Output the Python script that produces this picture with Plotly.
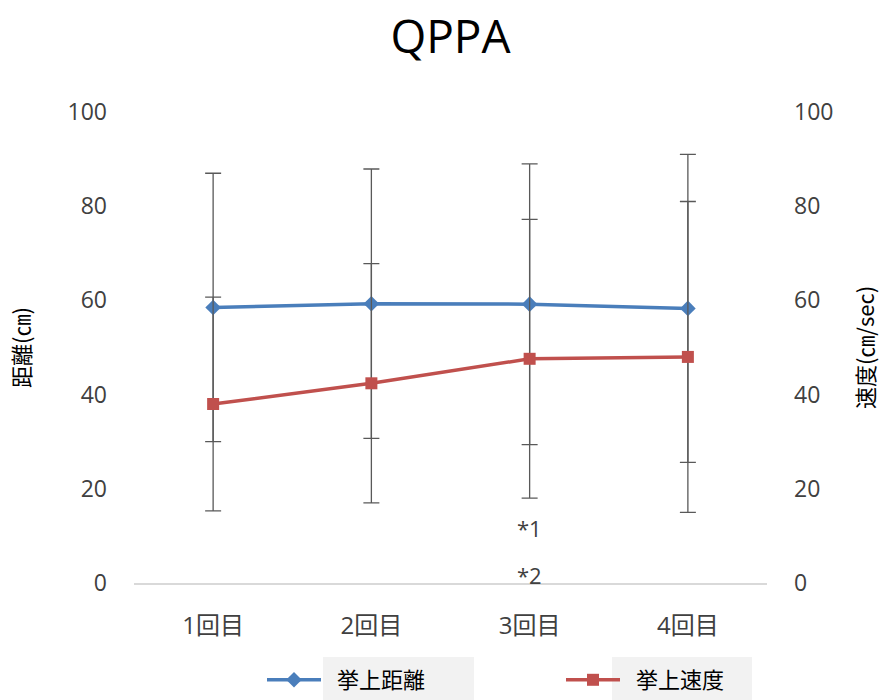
import plotly.graph_objects as go

# Trial sessions
sessions = ["1回目", "2回目", "3回目", "4回目"]

# Lift distance (cm): mean and SD
distance_mean = [58.5, 59.3, 59.2, 58.3]
distance_sd = [28.5, 28.6, 29.8, 32.7]

# Lift velocity (cm/sec): mean and SD
velocity_mean = [38.0, 42.4, 47.6, 48.0]
velocity_sd = [22.7, 25.4, 29.6, 33.0]

y_ticks = [0, 20, 40, 60, 80, 100]

BLUE = "#4A7EBB"
RED = "#C0504D"
ERR = "#595959"
TEXT = "#404040"
FONT = "Open Sans, Noto Sans CJK JP, sans-serif"
CJK_FONT = "Noto Sans CJK JP, Open Sans, sans-serif"
GAP = "\u2002"  # spacing between legend sample and its label

fig = go.Figure()

fig.add_trace(go.Scatter(
    x=sessions, y=distance_mean, name=GAP + "挙上距離",
    mode="lines+markers",
    line=dict(color=BLUE, width=3.5),
    marker=dict(symbol="diamond", size=12, color=BLUE),
    error_y=dict(type="data", array=distance_sd, visible=True,
                 color=ERR, thickness=1.3, width=8),
    yaxis="y",
))

fig.add_trace(go.Scatter(
    x=sessions, y=velocity_mean, name=GAP + "挙上速度",
    mode="lines+markers",
    line=dict(color=RED, width=3.5),
    marker=dict(symbol="square", size=12, color=RED),
    error_y=dict(type="data", array=velocity_sd, visible=True,
                 color=ERR, thickness=1.3, width=8),
    yaxis="y2",
))

# Significance marks under the third session
for label, yv in [("*1", 11.7), ("*2", 1.7)]:
    fig.add_annotation(x=sessions[2], y=yv, text=label, showarrow=False,
                       xref="x", yref="y",
                       font=dict(family=FONT, size=22, color=TEXT))

# Light boxes behind the legend labels
for x0, x1 in [(323, 474), (612, 752)]:
    fig.add_shape(type="rect", xref="paper", yref="paper",
                  x0=(x0 - 134) / 633, x1=(x1 - 134) / 633,
                  y0=(583 - 700) / 471, y1=(583 - 657) / 471,
                  fillcolor="#f2f2f2", line=dict(width=0), layer="below")

fig.update_layout(
    width=888, height=700,
    margin=dict(l=134, r=121, t=112, b=117, autoexpand=False),
    paper_bgcolor="white", plot_bgcolor="white",
    font=dict(family=FONT, size=22, color=TEXT),
    title=dict(text="QPPA", x=0.5, xanchor="center", xref="paper",
               y=0.948, yanchor="middle",
               font=dict(family=FONT, size=46, color="#000000")),
    xaxis=dict(
        type="category", categoryorder="array", categoryarray=sessions,
        range=[-0.5, 3.5], showgrid=False, zeroline=False,
        showline=True, linecolor="#d9d9d9", linewidth=1.5,
        ticks="", ticklabelstandoff=20,
        tickfont=dict(family=FONT, size=24, color=TEXT),
    ),
    yaxis=dict(
        range=[0, 100], tickvals=y_ticks, showgrid=False, zeroline=False,
        showline=False, ticks="", ticklabelstandoff=26,
        tickfont=dict(family=FONT, size=23, color=TEXT),
        title=dict(text="距離(㎝)", standoff=30,
                   font=dict(family=CJK_FONT, size=22, color="#000000")),
    ),
    yaxis2=dict(
        range=[0, 100], tickvals=y_ticks, overlaying="y", side="right",
        showgrid=False, zeroline=False, showline=False, ticks="",
        ticklabelstandoff=26,
        tickfont=dict(family=FONT, size=23, color=TEXT),
        title=dict(text="速度(㎝/sec)", standoff=26,
                   font=dict(family=CJK_FONT, size=22, color="#000000")),
    ),
    legend=dict(
        orientation="h", xref="container", x=262 / 888, xanchor="left",
        yref="container", y=20 / 700, yanchor="middle",
        bgcolor="rgba(0,0,0,0)", entrywidth=230, entrywidthmode="pixels",
        font=dict(family=CJK_FONT, size=22, color="#000000"),
        itemwidth=54,
    ),
)

fig.write_html("out.html")
